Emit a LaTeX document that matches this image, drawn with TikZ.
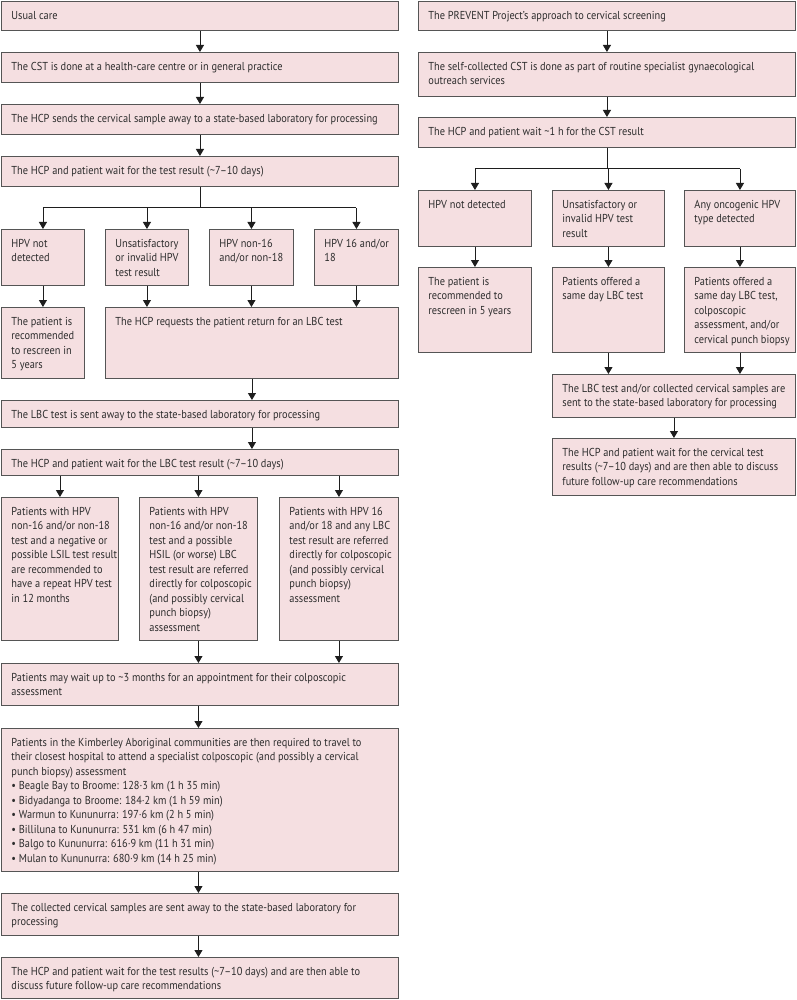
\documentclass[tikz,border=0pt]{standalone}
\usepackage{fontspec}
\setmainfont[FakeStretch=0.9]{PT Sans}
\usetikzlibrary{arrows.meta}
\definecolor{boxfill}{RGB}{245,223,225}
\definecolor{boxline}{RGB}{85,85,85}
\definecolor{txtc}{RGB}{45,45,45}
\definecolor{arrc}{RGB}{30,30,30}
\tikzset{
  bx/.style={draw=boxline, fill=boxfill, line width=0.9pt, inner sep=0pt, anchor=north west,
    text=txtc, font=\fontsize{11.5}{14.5}\selectfont},
  ln/.style={draw=arrc, line width=0.9pt},
  arr/.style={ln, -{Triangle[width=8pt,length=7pt]}}
}
\newcommand{\flowbox}[6]{%
  \node[bx] (#1) at (#2,#3) {\parbox[t][#5pt][t]{#4pt}{\raggedright\leftskip=10pt\relax\rightskip=-40pt plus 1fil\relax\hyphenpenalty=10000\relax\rule{0pt}{18pt}#6}};}
\begin{document}
\begin{tikzpicture}[x=1pt,y=-1pt]
\useasboundingbox (0,0) rectangle (796,1000);
% left column
\flowbox{L1}{1}{1}{397}{29}{Usual care}
\flowbox{L2}{1}{52}{397}{30}{The CST is done at a health-care centre or in general practice}
\flowbox{L3}{1}{104}{397}{30}{The HCP sends the cervical sample away to a state-based laboratory for processing}
\flowbox{L4}{1}{156}{397}{30}{The HCP and patient wait for the test result (\textasciitilde7–10 days)}
\flowbox{A}{1}{229}{83}{56}{HPV not\\detected}
\flowbox{B}{105}{229}{83}{56}{Unsatisfactory\\or invalid HPV\\test result}
\flowbox{C}{209}{229}{84}{56}{HPV non-16\\and/or non-18}
\flowbox{D}{314}{229}{84}{56}{HPV 16 and/or\\18}
\flowbox{Ar}{1}{307}{83}{71}{The patient is\\recommended\\to rescreen in\\5 years}
\flowbox{Req}{105}{307}{293}{71}{The HCP requests the patient return for an LBC test}
\flowbox{LS}{1}{400}{397}{27}{The LBC test is sent away to the state-based laboratory for processing}
\flowbox{LW}{1}{449}{397}{26}{The HCP and patient wait for the LBC test result (\textasciitilde7–10 days)}
\flowbox{P1}{1}{497}{117}{143}{Patients with HPV\\non-16 and/or non-18\\test and a negative or\\possible LSIL test result\\are recommended to\\have a repeat HPV test\\in 12 months}
\flowbox{P2}{139}{497}{118}{143}{Patients with HPV\\non-16 and/or non-18\\test and a possible\\HSIL (or worse) LBC\\test result are referred\\directly for colposcopic\\(and possibly cervical\\punch biopsy)\\assessment}
\flowbox{P3}{279}{497}{119}{143}{Patients with HPV 16\\and/or 18 and any LBC\\test result are referred\\directly for colposcopic\\(and possibly cervical\\punch biopsy)\\assessment}
\flowbox{W3}{1}{663}{397}{42}{Patients may wait up to \textasciitilde3 months for an appointment for their colposcopic\\assessment}
\flowbox{K}{1}{728}{397}{143}{Patients in the Kimberley Aboriginal communities are then required to travel to\\their closest hospital to attend a specialist colposcopic (and possibly a cervical\\punch biopsy) assessment\\• Beagle Bay to Broome: 128·3 km (1 h 35 min)\\• Bidyadanga to Broome: 184·2 km (1 h 59 min)\\• Warmun to Kununurra: 197·6 km (2 h 5 min)\\• Billiluna to Kununurra: 531 km (6 h 47 min)\\• Balgo to Kununurra: 616·9 km (11 h 31 min)\\• Mulan to Kununurra: 680·9 km (14 h 25 min)}
\flowbox{Co}{1}{893}{397}{42}{The collected cervical samples are sent away to the state-based laboratory for\\processing}
\flowbox{Fi}{1}{957}{397}{41}{The HCP and patient wait for the test results (\textasciitilde7–10 days) and are then able to\\discuss future follow-up care recommendations}
% right column
\flowbox{R1}{418}{1}{377}{29}{The PREVENT Project’s approach to cervical screening}
\flowbox{R2}{418}{52}{377}{44}{The self-collected CST is done as part of routine specialist gynaecological\\outreach services}
\flowbox{R3}{418}{117}{377}{30}{The HCP and patient wait \textasciitilde1 h for the CST result}
\flowbox{RA}{418}{190}{113}{56}{HPV not detected}
\flowbox{RB}{552}{190}{112}{56}{Unsatisfactory or\\invalid HPV test\\result}
\flowbox{RC}{684}{190}{111}{56}{Any oncogenic HPV\\type detected}
\flowbox{RA2}{418}{267}{113}{85}{The patient is\\recommended to\\rescreen in 5 years}
\flowbox{RB2}{552}{267}{112}{85}{Patients offered a\\same day LBC test}
\flowbox{RC2}{684}{267}{111}{85}{Patients offered a\\same day LBC test,\\colposcopic\\assessment, and/or\\cervical punch biopsy}
\flowbox{RL}{552}{374}{243}{43}{The LBC test and/or collected cervical samples are\\sent to the state-based laboratory for processing}
\flowbox{RF}{552}{438}{243}{57}{The HCP and patient wait for the cervical test\\results (\textasciitilde7–10 days) and are then able to discuss\\future follow-up care recommendations}
% left connectors
\draw[arr] (L1.south) -- (L2.north);
\draw[arr] (L2.south) -- (L3.north);
\draw[arr] (L3.south) -- (L4.north);
\draw[ln] (L4.south) -- ++(0,21) coordinate (jL);
\draw[ln] (jL -| A.north) -- (jL -| D.north);
\foreach \n in {A,B,C,D} {\draw[arr] (jL -| \n.north) -- (\n.north);}
\draw[arr] (A.south) -- (Ar.north);
\foreach \n in {B,C,D} {\draw[arr] (\n.south) -- (\n.south |- Req.north);}
\draw[arr] (Req.south) -- (Req.south |- LS.north);
\draw[arr] (LS.south -| Req.south) -- (LW.north -| Req.south);
\foreach \n in {P1,P2,P3} {\draw[arr] (LW.south -| \n.north) -- (\n.north);}
\draw[arr] (P2.south) -- (P2.south |- W3.north);
\draw[arr] (P3.south) -- (P3.south |- W3.north);
\draw[arr] (W3.south -| P2.south) -- (K.north -| P2.south);
\draw[arr] (K.south -| P2.south) -- (Co.north -| P2.south);
\draw[arr] (Co.south -| P2.south) -- (Fi.north -| P2.south);
% right connectors
\draw[arr] (R1.south) -- (R2.north);
\draw[arr] (R2.south) -- (R3.north);
\draw[ln] (R3.south) -- ++(0,21) coordinate (jR);
\draw[ln] (jR -| RA.north) -- (jR -| RC.north);
\foreach \n in {RA,RB,RC} {\draw[arr] (jR -| \n.north) -- (\n.north);}
\draw[arr] (RA.south) -- (RA2.north);
\draw[arr] (RB.south) -- (RB2.north);
\draw[arr] (RC.south) -- (RC2.north);
\draw[arr] (RB2.south) -- (RB2.south |- RL.north);
\draw[arr] (RC2.south) -- (RC2.south |- RL.north);
\draw[arr] (RL.south) -- (RF.north);
\end{tikzpicture}
\end{document}
